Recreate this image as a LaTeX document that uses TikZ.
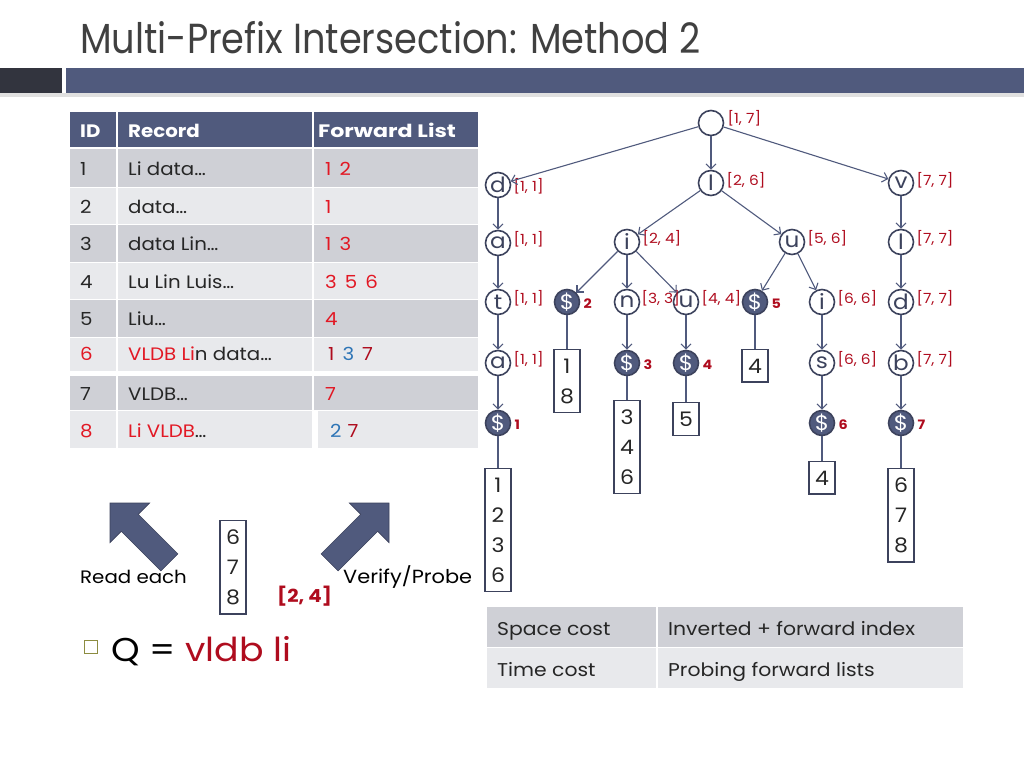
\documentclass[tikz,border=0pt]{standalone}
\usepackage{fontspec}
\setmainfont{Poppins}[FakeStretch=1.1]
\usetikzlibrary{arrows.meta,calc}
\definecolor{slate}{RGB}{80,90,125}
\definecolor{slatedk}{RGB}{60,66,92}
\definecolor{darkblock}{RGB}{50,52,62}
\definecolor{rowdk}{RGB}{207,208,214}
\definecolor{rowlt}{RGB}{232,233,236}
\definecolor{bred}{RGB}{226,24,36}
\definecolor{dred}{RGB}{175,12,30}
\definecolor{lblue}{RGB}{46,117,182}
\definecolor{titlegray}{RGB}{64,64,64}
\definecolor{olive}{RGB}{140,140,64}
\newcommand\myfs[1]{\fontsize{#1}{#1}\selectfont}
\newcommand\gap{\hspace{8pt}}
\tikzset{
  tn/.style={circle, draw=slatedk, line width=1.6pt, minimum size=25pt, inner sep=0pt, text=slatedk, font=\myfs{21}},
  dn/.style={tn, fill=slate, text=white},
  lab/.style={text=dred, font=\myfs{14}, anchor=west, inner sep=0pt},
  dlab/.style={text=dred, font=\bfseries\myfs{13}, anchor=west, inner sep=0pt},
  lst/.style={draw=slatedk, line width=1.4pt, minimum width=26pt, inner xsep=0pt, inner ysep=9pt, align=center, font=\fontsize{20}{30}\selectfont, text=black!85},
  edge/.style={draw=slate, line width=1.1pt, -{Straight Barb[length=5pt,width=10pt]}},
  link/.style={draw=slate, line width=1.1pt},
  cell/.style={anchor=base west, inner sep=0pt, font=\myfs{18}, text=black!85},
  hcell/.style={anchor=base west, inner sep=0pt, font=\bfseries\myfs{18}, text=white},
  blockarrow/.style={fill=slate, draw=slatedk, line width=0.6pt},
}
\begin{document}
\begin{tikzpicture}[x=1pt,y=-1pt]
\useasboundingbox (0,0) rectangle (1024,768);
% title
\node[anchor=base west, inner sep=0pt, text=titlegray, font=\myfs{42}] (title) at (80,53) {\scalebox{0.795}[1]{Multi-Prefix Intersection: Method 2}};
\fill[black!12] (0,93) rectangle (1024,97);
\fill[darkblock] (0,68) rectangle (62,93);
\fill[slate] (66,68) rectangle (1024,93);
% table
\fill[slate] (70,112) rectangle (478,147);
\fill[rowdk] (70,149) rectangle (478,187);
\fill[rowlt] (70,188) rectangle (478,224);
\fill[rowdk] (70,225) rectangle (478,262);
\fill[rowlt] (70,263) rectangle (478,299);
\fill[rowdk] (70,300) rectangle (478,337);
\fill[rowlt] (70,338) rectangle (478,371);
\fill[rowdk] (70,376) rectangle (478,410);
\fill[rowlt] (70,411) rectangle (478,448);
\draw[white, line width=2pt] (117,112) -- (117,448) (313,112) -- (313,448);
\draw[white, line width=4pt] (316,411) -- (316,448);
\node[hcell] (h1) at (80,137) {ID};
\node[hcell] (h2) at (128,137) {Record};
\node[hcell] (h3) at (318,137) {\scalebox{1.12}[1]{Forward List}};
\node[cell] (i1) at (80,175) {1};
\node[cell] (r1) at (128,175) {Li data…};
\node[cell, text=bred] (f1) at (325,175) {1\gap2};
\node[cell] (i2) at (80,213) {2};
\node[cell] (r2) at (128,213) {data…};
\node[cell, text=bred] (f2) at (325,213) {1};
\node[cell] (i3) at (80,250) {3};
\node[cell] (r3) at (128,250) {data Lin…};
\node[cell, text=bred] (f3) at (325,250) {1\gap3};
\node[cell] (i4) at (80,288) {4};
\node[cell] (r4) at (128,288) {Lu Lin Luis…};
\node[cell, text=bred] (f4) at (325,288) {3\gap5\gap6};
\node[cell] (i5) at (80,325) {5};
\node[cell] (r5) at (128,325) {Liu…};
\node[cell, text=bred] (f5) at (325,325) {4};
\node[cell, text=bred] (i6) at (80,360) {6};
\node[cell] (r6) at (128,360) {\textcolor{bred}{VLDB Li}n data…};
\node[cell] (f6) at (328,360) {\textcolor{dred}{1}\gap\textcolor{lblue}{3}\gap\textcolor{dred}{7}};
\node[cell] (i7) at (80,400) {7};
\node[cell] (r7) at (128,400) {VLDB…};
\node[cell, text=bred] (f7) at (325,400) {7};
\node[cell, text=bred] (i8) at (80,437) {8};
\node[cell] (r8) at (128,437) {\textcolor{bred}{Li VLDB}…};
\node[cell] (f8) at (330,437) {\textcolor{lblue}{2}\hspace{6pt}\textcolor{dred}{7}};
% tree nodes
\node[tn] (root) at (711,123) {};
\node[tn] (d) at (498,185) {d};
\node[tn] (l) at (711,183) {l};
\node[tn] (v) at (901,183) {v};
\node[tn] (a) at (498,243) {a};
\node[tn] (i) at (627,242) {i};
\node[tn] (u) at (792,242) {u};
\node[tn] (l2) at (901,242) {l};
\node[tn] (t) at (498,302) {t};
\node[dn] (s2) at (567,302) {\$};
\node[tn] (n) at (627,302) {n};
\node[tn] (u2) at (686,302) {u};
\node[dn] (s5) at (755,302) {\$};
\node[tn] (i2) at (822,302) {i};
\node[tn] (d2) at (901,302) {d};
\node[tn] (a2) at (498,363) {a};
\node[dn] (s3) at (627,363) {\$};
\node[dn] (s4) at (686,363) {\$};
\node[tn] (s) at (822,363) {s};
\node[tn] (b) at (901,363) {b};
\node[dn] (s1) at (498,423) {\$};
\node[dn] (s6) at (822,423) {\$};
\node[dn] (s7) at (901,423) {\$};
% lists
\node[lst, anchor=north] (L18) at (567,349) {1\\8};
\node[lst, anchor=north] (L346) at (627,400) {3\\4\\6};
\node[lst, anchor=north] (L5) at (686,402) {5};
\node[lst, anchor=north] (L4a) at (755,349) {4};
\node[lst, anchor=north] (L1236) at (498,468) {1\\2\\3\\6};
\node[lst, anchor=north] (L4b) at (822,461) {4};
\node[lst, anchor=north] (L678) at (901,468) {6\\7\\8};
% interval labels
\node[lab] (lroot) at ($(root.east)+(3,-5)$) {[1, 7]};
\node[lab] at ($(d.east)+(2,1)$) {[1, 1]};
\node[lab] at ($(l.east)+(2,-3)$) {[2, 6]};
\node[lab] at ($(v.east)+(2,-3)$) {[7, 7]};
\node[lab] at ($(a.east)+(2,-4)$) {[1, 1]};
\node[lab] at ($(i.east)+(2,-4)$) {[2, 4]};
\node[lab] at ($(u.east)+(2,-4)$) {[5, 6]};
\node[lab] at ($(l2.east)+(2,-4)$) {[7, 7]};
\node[lab] at ($(t.east)+(2,-4)$) {[1, 1]};
\node[lab] at ($(n.east)+(1,-4)$) {[3, 3]};
\node[lab] at ($(u2.east)+(2,-4)$) {[4, 4]};
\node[lab] at ($(i2.east)+(2,-4)$) {[6, 6]};
\node[lab] at ($(d2.east)+(2,-4)$) {[7, 7]};
\node[lab] at ($(a2.east)+(2,-4)$) {[1, 1]};
\node[lab] at ($(s.east)+(2,-4)$) {[6, 6]};
\node[lab] at ($(b.east)+(2,-4)$) {[7, 7]};
\node[dlab] at ($(s1.east)+(3,2)$) {1};
\node[dlab] at ($(s2.east)+(3,2)$) {2};
\node[dlab] at ($(s3.east)+(3,2)$) {3};
\node[dlab] at ($(s4.east)+(3,2)$) {4};
\node[dlab] at ($(s5.east)+(3,2)$) {5};
\node[dlab] at ($(s6.east)+(3,2)$) {6};
\node[dlab] at ($(s7.east)+(3,2)$) {7};
% edges
\foreach \p/\c in {root/d, root/l, root/v, d/a, a/t, t/a2, a2/s1, l/i, l/u, i/s2, i/n, i/u2, n/s3, u2/s4, u/s5, u/i2, i2/s, s/s6, v/l2, l2/d2, d2/b, b/s7}
  \draw[edge] (\p) -- (\c);
\draw[link] (s1) -- (L1236.north);
\draw[link] (s2) -- (L18.north);
\draw[link] (s3) -- (L346.north);
\draw[link] (s4) -- (L5.north);
\draw[link] (s5) -- (L4a.north);
\draw[link] (s6) -- (L4b.north);
\draw[link] (s7) -- (L678.north);
% block arrows
\draw[blockarrow] (110,503) -- (149.6,503) -- (138.3,514.3) -- (177.9,553.9) -- (160.9,570.9) -- (121.3,531.3) -- (110,542.6) -- cycle;
\draw[blockarrow] (389,503) -- (389,542.6) -- (377.7,531.3) -- (338.1,570.9) -- (321.1,553.9) -- (360.7,514.3) -- (349.4,503) -- cycle;
\node[anchor=base west, inner sep=0pt, font=\myfs{18}, text=black] (read) at (80,583) {Read each};
\node[anchor=base west, inner sep=0pt, font=\myfs{19}, text=black] (verify) at (343,583) {Verify/Probe};
\node[lst, anchor=north] (L678b) at (233,520) {6\\7\\8};
\node[anchor=base west, inner sep=0pt, font=\bfseries\myfs{18}, text=dred] (rng) at (277,602) {[2, 4]};
% query
\draw[olive, line width=0.8pt] (84,640) rectangle (97,653);
\node[anchor=base west, inner sep=0pt, font=\myfs{33}, text=black] (q) at (111,661) {Q = \textcolor{dred}{vldb li}};
% bottom table
\fill[rowdk] (487,607) rectangle (963,647);
\fill[rowlt] (487,648) rectangle (963,688);
\draw[white, line width=2pt] (657,607) -- (657,688);
\node[cell, font=\myfs{18.5}] (sc) at (497,635) {Space cost};
\node[cell, font=\myfs{18.5}] (sv) at (668,635) {Inverted + forward index};
\node[cell, font=\myfs{18.5}] (tc) at (497,676) {Time cost};
\node[cell, font=\myfs{18.5}] (tv) at (668,676) {Probing forward lists};
\end{tikzpicture}
\end{document}
